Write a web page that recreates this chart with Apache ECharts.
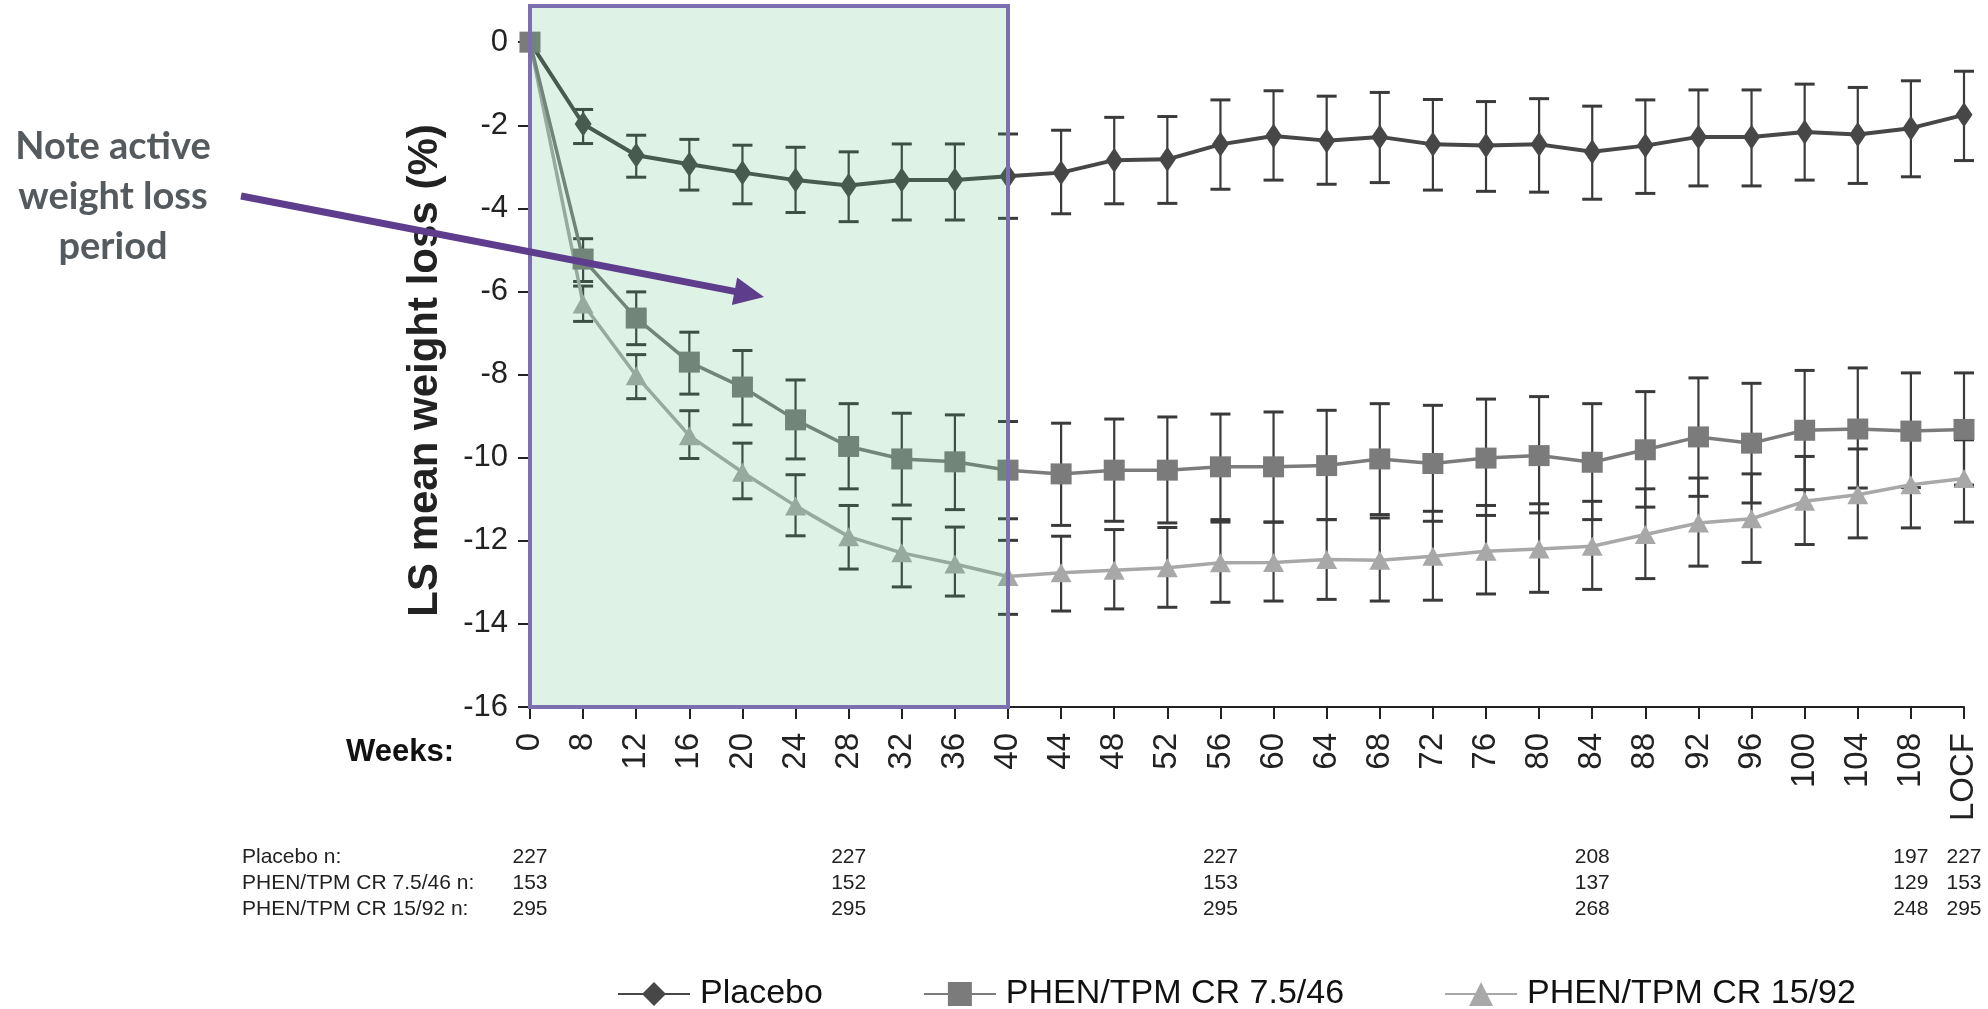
<!DOCTYPE html>
<html>
<head>
<meta charset="utf-8">
<title>LS mean weight loss over time</title>
<script src="https://cdn.jsdelivr.net/npm/echarts@6/dist/echarts.min.js"></script>
<style>
  html, body { margin: 0; padding: 0; background: #ffffff; }
  #chart { width: 1988px; height: 1009px; }
</style>
</head>
<body>
<div id="chart"></div>
<script>
// Visit weeks (category axis), last column is the LOCF endpoint
const weeks = ['0', '8', '12', '16', '20', '24', '28', '32', '36', '40', '44', '48', '52', '56',
  '60', '64', '68', '72', '76', '80', '84', '88', '92', '96', '100', '104', '108', 'LOCF'];

// LS mean change in body weight (%) per visit
const placebo = [0, -1.97, -2.72, -2.94, -3.14, -3.32, -3.45, -3.32, -3.32, -3.23, -3.14, -2.84, -2.82, -2.46,
  -2.26, -2.37, -2.28, -2.46, -2.49, -2.46, -2.64, -2.49, -2.28, -2.28, -2.16, -2.22, -2.07, -1.75];
const placeboHigh = [null, -1.62, -2.24, -2.34, -2.48, -2.53, -2.64, -2.45, -2.45, -2.21, -2.12, -1.81, -1.79, -1.39,
  -1.17, -1.30, -1.21, -1.38, -1.43, -1.36, -1.54, -1.39, -1.15, -1.15, -1.01, -1.09, -0.93, -0.70];
const placeboLow = [null, -2.44, -3.25, -3.56, -3.89, -4.10, -4.32, -4.28, -4.28, -4.24, -4.13, -3.89, -3.88, -3.54,
  -3.32, -3.42, -3.38, -3.56, -3.59, -3.61, -3.78, -3.64, -3.46, -3.46, -3.32, -3.40, -3.24, -2.85];

const midDose = [0, -5.22, -6.64, -7.70, -8.30, -9.09, -9.73, -10.03, -10.10, -10.30, -10.39, -10.30, -10.30, -10.22,
  -10.22, -10.19, -10.03, -10.14, -10.01, -9.95, -10.11, -9.81, -9.50, -9.65, -9.34, -9.31, -9.36, -9.32];
const midDoseHigh = [null, -4.73, -6.01, -6.98, -7.42, -8.13, -8.70, -8.93, -8.97, -9.13, -9.17, -9.07, -9.02, -8.95,
  -8.90, -8.86, -8.70, -8.74, -8.59, -8.53, -8.70, -8.41, -8.08, -8.21, -7.90, -7.84, -7.96, -7.96];
const midDoseLow = [null, -5.76, -7.28, -8.47, -9.21, -10.03, -10.75, -11.14, -11.25, -11.47, -11.63, -11.53, -11.57, -11.49,
  -11.55, -11.49, -11.37, -11.53, -11.39, -11.33, -11.49, -11.19, -10.93, -11.09, -10.77, -10.73, -10.72, -10.66];

const highDose = [0, -6.30, -8.03, -9.47, -10.35, -11.16, -11.90, -12.29, -12.56, -12.86, -12.77, -12.71, -12.65, -12.53,
  -12.52, -12.45, -12.47, -12.37, -12.25, -12.20, -12.13, -11.85, -11.57, -11.47, -11.05, -10.89, -10.65, -10.50];
const highDoseHigh = [null, -5.87, -7.52, -8.87, -9.65, -10.41, -11.15, -11.47, -11.67, -11.99, -11.89, -11.73, -11.68, -11.55,
  -11.55, -11.49, -11.45, -11.29, -11.15, -11.11, -11.05, -10.75, -10.49, -10.39, -9.97, -9.79, -9.57, -9.57];
const highDoseLow = [null, -6.72, -8.58, -10.02, -10.99, -11.88, -12.68, -13.11, -13.33, -13.77, -13.69, -13.64, -13.60, -13.48,
  -13.45, -13.41, -13.45, -13.43, -13.28, -13.24, -13.17, -12.91, -12.61, -12.52, -12.09, -11.93, -11.69, -11.55];

// Number of subjects at selected visits
const nWeeks = ['0', '28', '56', '84', '108', 'LOCF'];
const nPlacebo = [227, 227, 227, 208, 197, 227];
const nMidDose = [153, 152, 153, 137, 129, 153];
const nHighDose = [295, 295, 295, 268, 248, 295];

const seriesNames = ['Placebo', 'PHEN/TPM CR 7.5/46', 'PHEN/TPM CR 15/92'];
const yTicks = [-16, -14, -12, -10, -8, -6, -4, -2, 0];

// Shaded active weight-loss period
const activeStart = '0';
const activeEnd = '40';

const FONT = "'Liberation Sans', Arial, Helvetica, sans-serif";

function barData(high, low) {
  const out = [];
  for (let i = 0; i < high.length; i++) {
    if (high[i] !== null && low[i] !== null) out.push([i, low[i], high[i]]);
  }
  return out;
}

function renderErrorBar(params, api) {
  const x = api.value(0);
  const lo = api.coord([x, api.value(1)]);
  const hi = api.coord([x, api.value(2)]);
  const hw = 10;
  return {
    type: 'group',
    children: [
      { type: 'line', shape: { x1: hi[0], y1: hi[1], x2: lo[0], y2: lo[1] }, style: { stroke: '#3a3a3a', lineWidth: 2.2 } },
      { type: 'line', shape: { x1: hi[0] - hw, y1: hi[1], x2: hi[0] + hw, y2: hi[1] }, style: { stroke: '#3a3a3a', lineWidth: 3 } },
      { type: 'line', shape: { x1: lo[0] - hw, y1: lo[1], x2: lo[0] + hw, y2: lo[1] }, style: { stroke: '#3a3a3a', lineWidth: 3 } }
    ]
  };
}

function errorSeries(high, low) {
  return {
    type: 'custom',
    renderItem: renderErrorBar,
    data: barData(high, low),
    encode: { x: 0, y: [1, 2] },
    z: 2,
    silent: true
  };
}

function countAxis(name, counts, offset) {
  return {
    type: 'category',
    data: weeks,
    boundaryGap: false,
    position: 'bottom',
    offset: offset,
    axisLine: { show: false, onZero: false },
    axisTick: { show: false },
    splitLine: { show: false },
    name: name,
    nameLocation: 'start',
    nameGap: 288,
    nameTextStyle: { fontFamily: FONT, fontSize: 21, color: '#222', align: 'left', verticalAlign: 'top' },
    axisLabel: {
      interval: 0,
      margin: 0,
      fontFamily: FONT,
      fontSize: 21,
      color: '#222',
      verticalAlign: 'top',
      formatter: function (v) {
        const k = nWeeks.indexOf(v);
        return k >= 0 ? String(counts[k]) : '';
      }
    }
  };
}

// Arrow pointing into the shaded period
const arrowFrom = [241, 196];
const arrowTo = [764, 297];
const headLen = 30;
function arrowHead(from, to, len, half) {
  const dx = to[0] - from[0], dy = to[1] - from[1];
  const d = Math.hypot(dx, dy);
  const ux = dx / d, uy = dy / d;
  const bx = to[0] - ux * len, by = to[1] - uy * len;
  return [[to[0], to[1]], [bx - uy * half, by + ux * half], [bx + uy * half, by - ux * half]];
}
const arrowLen = Math.hypot(arrowTo[0] - arrowFrom[0], arrowTo[1] - arrowFrom[1]);
const lineEnd = [
  arrowTo[0] - (arrowTo[0] - arrowFrom[0]) / arrowLen * (headLen - 4),
  arrowTo[1] - (arrowTo[1] - arrowFrom[1]) / arrowLen * (headLen - 4)
];

const chart = echarts.init(document.getElementById('chart'), null, { renderer: 'canvas' });

chart.setOption({
  animation: false,
  backgroundColor: '#ffffff',
  grid: { left: 530, right: 24, top: 6, bottom: 302, containLabel: false },
  legend: {
    data: seriesNames,
    left: 612,
    top: 972,
    itemWidth: 72,
    itemHeight: 30,
    itemGap: 100,
    textStyle: { fontFamily: FONT, fontSize: 34, color: '#111', padding: [0, 0, 0, 5] }
  },
  xAxis: [
    {
      type: 'category',
      data: weeks,
      boundaryGap: false,
      name: 'Weeks:',
      nameLocation: 'start',
      nameGap: 76,
      nameTextStyle: { fontFamily: FONT, fontSize: 31, fontWeight: 'bold', color: '#111', verticalAlign: 'top', padding: [30, 0, 0, 0] },
      axisLine: { onZero: false, lineStyle: { color: '#222', width: 2 } },
      axisTick: { interval: 0, length: 12, lineStyle: { color: '#222', width: 2 } },
      axisLabel: { interval: 0, rotate: 90, margin: 26, fontFamily: FONT, fontSize: 33, color: '#222' },
      splitLine: { show: false }
    },
    countAxis('Placebo n:', nPlacebo, 140),
    countAxis('PHEN/TPM CR 7.5/46 n:', nMidDose, 166),
    countAxis('PHEN/TPM CR 15/92 n:', nHighDose, 192)
  ],
  yAxis: {
    type: 'value',
    min: -16,
    max: 0.87,
    name: 'LS mean weight loss (%)',
    nameLocation: 'middle',
    nameGap: 84,
    nameTextStyle: { fontFamily: FONT, fontSize: 42, fontWeight: 'bold', color: '#222', padding: [0, 28, 0, 0] },
    axisLine: { show: true, onZero: false, lineStyle: { color: '#222', width: 2 } },
    axisTick: { show: true, length: 12, customValues: yTicks, lineStyle: { color: '#222', width: 2 } },
    axisLabel: { customValues: yTicks, margin: 22, fontFamily: FONT, fontSize: 31, color: '#222' },
    splitLine: { show: false }
  },
  series: [
    errorSeries(placeboHigh, placeboLow),
    errorSeries(midDoseHigh, midDoseLow),
    errorSeries(highDoseHigh, highDoseLow),
    {
      name: seriesNames[0],
      type: 'line',
      data: placebo,
      z: 3,
      symbol: 'diamond',
      symbolSize: [17, 25],
      showAllSymbol: true,
      itemStyle: { color: '#474747' },
      lineStyle: { color: '#474747', width: 4 }
    },
    {
      name: seriesNames[2],
      type: 'line',
      data: highDose,
      z: 3,
      symbol: 'triangle',
      symbolSize: [21, 19],
      showAllSymbol: true,
      itemStyle: { color: '#a8a8a8' },
      lineStyle: { color: '#a8a8a8', width: 3.5 }
    },
    {
      name: seriesNames[1],
      type: 'line',
      data: midDose,
      z: 3,
      symbol: 'rect',
      symbolSize: [21, 21],
      showAllSymbol: true,
      itemStyle: { color: '#7b7b7b' },
      lineStyle: { color: '#7b7b7b', width: 3.5 }
    },
    {
      // translucent band marking the active weight-loss period
      type: 'line',
      data: [],
      z: 10,
      silent: true,
      markArea: {
        silent: true,
        z: 10,
        itemStyle: { color: 'rgba(72,183,116,0.18)', borderColor: '#7b6fb0', borderWidth: 4 },
        data: [[{ xAxis: activeStart, yAxis: -16 }, { xAxis: activeEnd, yAxis: 0.87 }]]
      }
    }
  ],
  graphic: [
    {
      type: 'text',
      x: 113,
      y: 122,
      z: 20,
      style: {
        text: 'Note active\nweight loss\nperiod',
        textAlign: 'center',
        textVerticalAlign: 'top',
        fontFamily: "Lato, 'Open Sans', sans-serif",
        fontWeight: 'bold',
        fontSize: 38,
        lineHeight: 50,
        fill: '#555a5e'
      }
    },
    {
      type: 'line',
      z: 20,
      shape: { x1: arrowFrom[0], y1: arrowFrom[1], x2: lineEnd[0], y2: lineEnd[1] },
      style: { stroke: '#5e3d8c', lineWidth: 7 }
    },
    {
      type: 'polygon',
      z: 20,
      shape: { points: arrowHead(arrowFrom, arrowTo, headLen, 14) },
      style: { fill: '#5e3d8c' }
    }
  ]
});
</script>
</body>
</html>
